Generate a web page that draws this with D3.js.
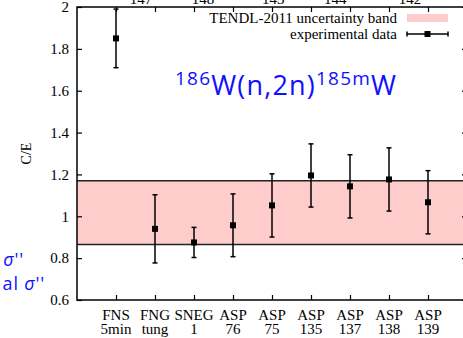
<!DOCTYPE html>
<html>
<head>
<meta charset="utf-8">
<script src="https://cdn.jsdelivr.net/npm/d3@7"></script>
<style>
  body { margin: 0; background: #fff; }
  svg { display: block; }
  text { font-family: "Liberation Serif", "Times New Roman", serif; }
</style>
</head>
<body>
<svg width="463" height="338"></svg>
<script>
// data
var labels1 = ["FNS", "FNG", "SNEG", "ASP", "ASP", "ASP", "ASP", "ASP", "ASP"],
    labels2 = ["5min", "tung", "1", "76", "75", "135", "137", "138", "139"],
    ce = [1.85, 0.94, 0.875, 0.957, 1.052, 1.195, 1.143, 1.176, 1.067],
    err = [0.14, 0.163, 0.072, 0.15, 0.151, 0.151, 0.151, 0.151, 0.151],
    band = [0.865, 1.17],
    yTicks = [0.6, 0.8, 1, 1.2, 1.4, 1.6, 1.8, 2],
    // cut off labels of the panel above
    topLabels = ["147", "148", "143", "144", "142"],
    topLabelPos = [1.64, 3.23, 5.03, 6.62, 8.54];

var svg = d3.select("svg");
var mLeft = 77, mRight = 467, mTop = 7, mBottom = 300;

var x = d3.scaleLinear().domain([0, 10]).range([mLeft, mRight]);
var y = d3.scaleLinear().domain([0.6, 2]).range([mBottom, mTop]);
var idx = d3.range(1, 10);

// uncertainty band
svg.append("rect")
  .attr("x", mLeft).attr("width", mRight - mLeft)
  .attr("y", y(band[1])).attr("height", y(band[0]) - y(band[1]))
  .style("fill", "#ffcccc");
band.forEach(function(b) {
  svg.append("line")
    .attr("x1", mLeft).attr("x2", mRight)
    .attr("y1", y(b)).attr("y2", y(b))
    .style("stroke", "#222").style("stroke-width", 1.5);
});

// axes, ticks drawn inward on all four sides
svg.append("g").attr("transform", "translate(0," + mBottom + ")")
  .call(d3.axisTop(x).tickValues(idx).tickSize(5).tickFormat(""));
svg.append("g").attr("transform", "translate(0," + mTop + ")")
  .call(d3.axisBottom(x).tickValues(idx).tickSize(5).tickFormat(""));
svg.append("g").attr("transform", "translate(" + mLeft + ",0)")
  .call(d3.axisRight(y).tickValues(yTicks).tickSize(5).tickFormat(""));
svg.append("g").attr("transform", "translate(" + mRight + ",0)")
  .call(d3.axisLeft(y).tickValues(yTicks).tickSize(5).tickFormat(""));
svg.selectAll(".domain").remove();
svg.selectAll(".tick line").style("stroke", "#000").style("stroke-width", 1.2);

svg.append("rect")
  .attr("x", mLeft).attr("y", mTop)
  .attr("width", mRight - mLeft).attr("height", mBottom - mTop)
  .style("fill", "none").style("stroke", "#000").style("stroke-width", 1.5);

// y tick labels
svg.selectAll(".ylab").data(yTicks).enter().append("text")
  .attr("x", mLeft - 8).attr("y", function(d) { return y(d); })
  .attr("dy", "0.35em").attr("text-anchor", "end")
  .style("font-size", "15px")
  .text(function(d) { return d; });

// category labels
svg.selectAll(".xlab1").data(labels1).enter().append("text")
  .attr("x", function(d, i) { return x(i + 1); }).attr("y", 320)
  .attr("text-anchor", "middle").style("font-size", "15px")
  .text(function(d) { return d; });
svg.selectAll(".xlab2").data(labels2).enter().append("text")
  .attr("x", function(d, i) { return x(i + 1); }).attr("y", 334)
  .attr("text-anchor", "middle").style("font-size", "15px")
  .text(function(d) { return d; });

svg.selectAll(".toplab").data(topLabels).enter().append("text")
  .attr("x", function(d, i) { return x(topLabelPos[i]); }).attr("y", 4)
  .attr("text-anchor", "middle").style("font-size", "15px")
  .text(function(d) { return d; });

// y axis title
svg.append("text")
  .attr("transform", "translate(31," + y(1.3) + ") rotate(-90)")
  .attr("text-anchor", "middle").style("font-size", "14px")
  .text("C/E");

// error bars
var pts = svg.append("g").selectAll("g").data(ce).enter().append("g");
pts.append("line")
  .attr("x1", function(d, i) { return x(i + 1); })
  .attr("x2", function(d, i) { return x(i + 1); })
  .attr("y1", function(d, i) { return y(Math.min(d + err[i], 2)); })
  .attr("y2", function(d, i) { return y(d - err[i]); })
  .style("stroke", "#000").style("stroke-width", 1.5);
[1, -1].forEach(function(s) {
  pts.append("line")
    .attr("x1", function(d, i) { return x(i + 1) - 2.5; })
    .attr("x2", function(d, i) { return x(i + 1) + 2.5; })
    .attr("y1", function(d, i) { return y(Math.min(d + s * err[i], 2)); })
    .attr("y2", function(d, i) { return y(Math.min(d + s * err[i], 2)); })
    .style("stroke", "#000").style("stroke-width", 1.5);
});
pts.append("rect")
  .attr("x", function(d, i) { return x(i + 1) - 3; })
  .attr("y", function(d) { return y(d) - 3; })
  .attr("width", 6).attr("height", 6)
  .style("fill", "#000");

// legend
var lg = svg.append("g");
lg.append("text").attr("x", 397).attr("y", 23).attr("text-anchor", "end")
  .style("font-size", "15px").text("TENDL-2011 uncertainty band");
lg.append("rect").attr("x", 407).attr("y", 14).attr("width", 41).attr("height", 8)
  .style("fill", "#ffcccc");
lg.append("text").attr("x", 397).attr("y", 39).attr("text-anchor", "end")
  .style("font-size", "15px").text("experimental data");
lg.append("line").attr("x1", 407).attr("x2", 448).attr("y1", 34).attr("y2", 34)
  .style("stroke", "#000").style("stroke-width", 1.5);
[407, 448].forEach(function(cx) {
  lg.append("line").attr("x1", cx).attr("x2", cx).attr("y1", 31.5).attr("y2", 36.5)
    .style("stroke", "#000").style("stroke-width", 1.5);
});
lg.append("rect").attr("x", 424.5).attr("y", 31).attr("width", 6).attr("height", 6)
  .style("fill", "#000");

// reaction title
var title = svg.append("text")
  .attr("x", 175).attr("y", 95)
  .style("font-family", "'Open Sans', sans-serif")
  .style("font-size", "27px").style("letter-spacing", "1.2px")
  .style("fill", "#1010ff");
title.append("tspan").attr("dy", -10).style("font-size", "19px").text("186");
title.append("tspan").attr("dy", 10).text("W(n,2n)");
title.append("tspan").attr("dy", -10).style("font-size", "19px").text("185m");
title.append("tspan").attr("dy", 10).text("W");

// cut off text at the left edge
var blue = "#1010ff";
svg.append("text").attr("x", 24).attr("y", 266).attr("text-anchor", "end")
  .style("font-family", "'Open Sans', sans-serif").style("font-size", "18px")
  .style("letter-spacing", "0.8px").style("fill", blue)
  .html('<tspan font-style="italic">σ</tspan>\'\'');
svg.append("text").attr("x", 45).attr("y", 290).attr("text-anchor", "end")
  .style("font-family", "'Open Sans', sans-serif").style("font-size", "18px")
  .style("letter-spacing", "0.8px").style("fill", blue)
  .html('al <tspan font-style="italic">σ</tspan>\'\'');
</script>
</body>
</html>
